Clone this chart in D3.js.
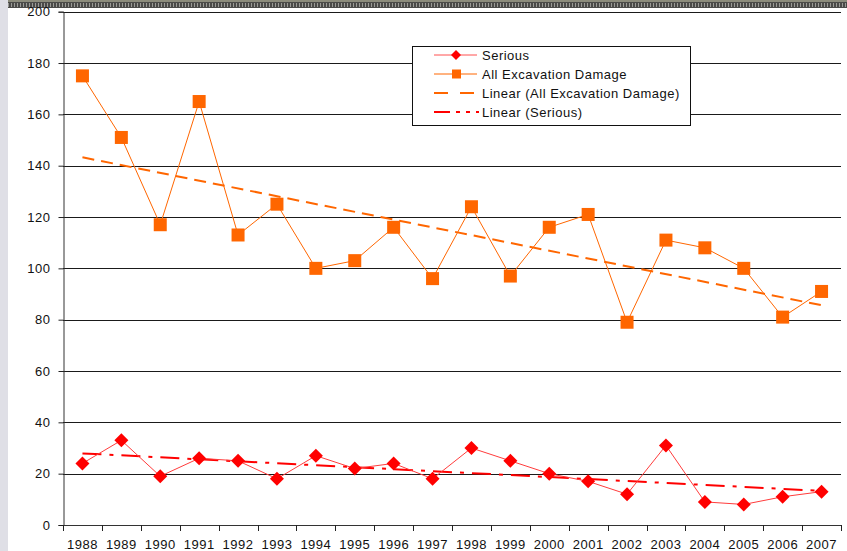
<!DOCTYPE html>
<html>
<head>
<meta charset="utf-8">
<script src="https://cdn.jsdelivr.net/npm/d3@7"></script>
<style>
  body { margin: 0; background: #fff; }
  svg { display: block; font-family: "Liberation Sans", Arial, sans-serif; }
</style>
</head>
<body>
<svg id="chart" width="847" height="551"></svg>
<script>
// damage counts per year

var years = ["1988","1989","1990","1991","1992","1993","1994","1995","1996","1997",
             "1998","1999","2000","2001","2002","2003","2004","2005","2006","2007"];
var allDamage = [175,151,117,165,113,125,100,103,116,96,124,97,116,121,79,111,108,100,81,91];
var serious   = [24,33,19,26,25,18,27,22,24,18,30,25,20,17,12,31,9,8,11,13];
var yTicks = [0,20,40,60,80,100,120,140,160,180,200];
var legendLabels = ["Serious","All Excavation Damage","Linear (All Excavation Damage)","Linear (Serious)"];

var orange = "#ff6600",
    red = "#ff0000";

var svg = d3.select("#chart");

var x = d3.scaleBand().domain(years).range([63, 841]);
var y = d3.scaleLinear().domain([0, 200]).range([525, 11.7]);

function cx(yr) { return x(yr) + x.bandwidth() / 2; }

// least squares trend, same as excel "Linear" trendline
function trend(vals) {
  var n = vals.length, mx = (n - 1) / 2, my = d3.mean(vals), sxy = 0, sxx = 0;
  vals.forEach(function(v, i) { sxy += (i - mx) * (v - my); sxx += (i - mx) * (i - mx); });
  var b = sxy / sxx;
  return [my - b * mx, my + b * (n - 1 - mx)];
}

// window chrome bits around the screenshot
svg.append("rect").attr("x", 0).attr("y", 0).attr("width", 8).attr("height", 551).attr("fill", "#dfdfe6");
var pat = svg.append("defs").append("pattern")
    .attr("id", "teeth").attr("width", 3).attr("height", 8).attr("patternUnits", "userSpaceOnUse");
pat.append("rect").attr("width", 3).attr("height", 8).attr("fill", "#4a4a48");
pat.append("rect").attr("width", 3).attr("height", 2).attr("fill", "#8c8c7c");
pat.append("rect").attr("x", 2).attr("y", 3).attr("width", 1).attr("height", 4).attr("fill", "#9a9a96");
svg.append("rect").attr("x", 8).attr("y", 0).attr("width", 839).attr("height", 8).attr("fill", "url(#teeth)");

// gridlines
svg.append("g").selectAll("line")
  .data(yTicks.filter(function(t) { return t > 0; }))
  .enter().append("line")
    .attr("x1", 63).attr("x2", 841)
    .attr("y1", function(d) { return Math.round(y(d)) + 0.5; })
    .attr("y2", function(d) { return Math.round(y(d)) + 0.5; })
    .attr("stroke", "#1a1a1a").attr("stroke-width", 1);

// y axis
var yAxis = svg.append("g").attr("transform", "translate(63.5,0)")
  .call(d3.axisLeft(y).tickValues(yTicks).tickSize(5).tickPadding(8));
yAxis.select(".domain").attr("stroke", "#333");
yAxis.selectAll(".tick line").attr("stroke", "#222");
yAxis.selectAll(".tick text").attr("font-size", 13).attr("fill", "#111")
  .attr("letter-spacing", 0.5)
  .attr("font-family", "Liberation Sans, Arial, sans-serif");

// x axis: ticks between categories, labels centred
var xg = svg.append("g");
xg.append("line").attr("x1", 63).attr("x2", 841).attr("y1", 525.5).attr("y2", 525.5).attr("stroke", "#333");
xg.selectAll(".xt").data(years.concat(["end"])).enter().append("line")
  .attr("x1", function(d, i) { return Math.round(x.range()[0] + i * x.bandwidth()) + 0.5; })
  .attr("x2", function(d, i) { return Math.round(x.range()[0] + i * x.bandwidth()) + 0.5; })
  .attr("y1", 525).attr("y2", 531).attr("stroke", "#222");
xg.selectAll("text").data(years).enter().append("text")
  .attr("x", function(d) { return cx(d); })
  .attr("y", 548.5)
  .attr("text-anchor", "middle")
  .attr("font-size", 13).attr("letter-spacing", 0.5).attr("fill", "#111")
  .text(function(d) { return d; });

// trend lines
var tAll = trend(allDamage), tSer = trend(serious);
svg.append("line")
  .attr("x1", cx(years[0])).attr("x2", cx(years[years.length - 1]))
  .attr("y1", y(tAll[0])).attr("y2", y(tAll[1]))
  .attr("stroke", orange).attr("stroke-width", 2).attr("stroke-dasharray", "12,7");
svg.append("line")
  .attr("x1", cx(years[0])).attr("x2", cx(years[years.length - 1]))
  .attr("y1", y(tSer[0])).attr("y2", y(tSer[1]))
  .attr("stroke", red).attr("stroke-width", 2).attr("stroke-dasharray", "19,8,4,8");

var line = d3.line()
  .x(function(d, i) { return cx(years[i]); })
  .y(function(d) { return y(d); });

// all excavation damage
svg.append("path").datum(allDamage)
  .attr("d", line).attr("fill", "none").attr("stroke", orange).attr("stroke-width", 1);
svg.append("g").selectAll("rect").data(allDamage).enter().append("rect")
  .attr("x", function(d, i) { return cx(years[i]) - 6.5; })
  .attr("y", function(d) { return y(d) - 6.5; })
  .attr("width", 13).attr("height", 13)
  .attr("fill", orange);

// serious
svg.append("path").datum(serious)
  .attr("d", line).attr("fill", "none").attr("stroke", "#ff3c3c").attr("stroke-width", 1);
svg.append("g").selectAll("path").data(serious).enter().append("path")
  .attr("d", function(d, i) {
    var px = cx(years[i]), py = y(d), r = 7;
    return "M" + px + "," + (py - r) + "L" + (px + r) + "," + py + "L" + px + "," + (py + r) + "L" + (px - r) + "," + py + "Z";
  })
  .attr("fill", red);

// legend
var lg = svg.append("g");
lg.append("rect").attr("x", 412.5).attr("y", 46.5).attr("width", 278).attr("height", 79)
  .attr("fill", "#fff").attr("stroke", "#111");
var rowY = [55, 74, 93, 112];
legendLabels.forEach(function(lab, i) {
  var ry = rowY[i];
  if (i === 0) {
    lg.append("line").attr("x1", 434).attr("x2", 477).attr("y1", ry).attr("y2", ry).attr("stroke", "#ff5050");
    lg.append("path").attr("d", "M456," + (ry - 5) + "L461," + ry + "L456," + (ry + 5) + "L451," + ry + "Z").attr("fill", red);
  } else if (i === 1) {
    lg.append("line").attr("x1", 434).attr("x2", 477).attr("y1", ry).attr("y2", ry).attr("stroke", orange);
    lg.append("rect").attr("x", 452).attr("y", ry - 4.5).attr("width", 9).attr("height", 9).attr("fill", orange);
  } else if (i === 2) {
    lg.append("line").attr("x1", 434).attr("x2", 478).attr("y1", ry).attr("y2", ry)
      .attr("stroke", orange).attr("stroke-width", 2).attr("stroke-dasharray", "14,12");
  } else {
    lg.append("line").attr("x1", 434).attr("x2", 479).attr("y1", ry).attr("y2", ry)
      .attr("stroke", red).attr("stroke-width", 2).attr("stroke-dasharray", "16,6,4,6,4,6");
  }
  lg.append("text").attr("x", 482).attr("y", ry + 4.5)
    .attr("font-size", 13).attr("letter-spacing", 0.5).attr("fill", "#111").text(lab);
});
</script>
</body>
</html>
